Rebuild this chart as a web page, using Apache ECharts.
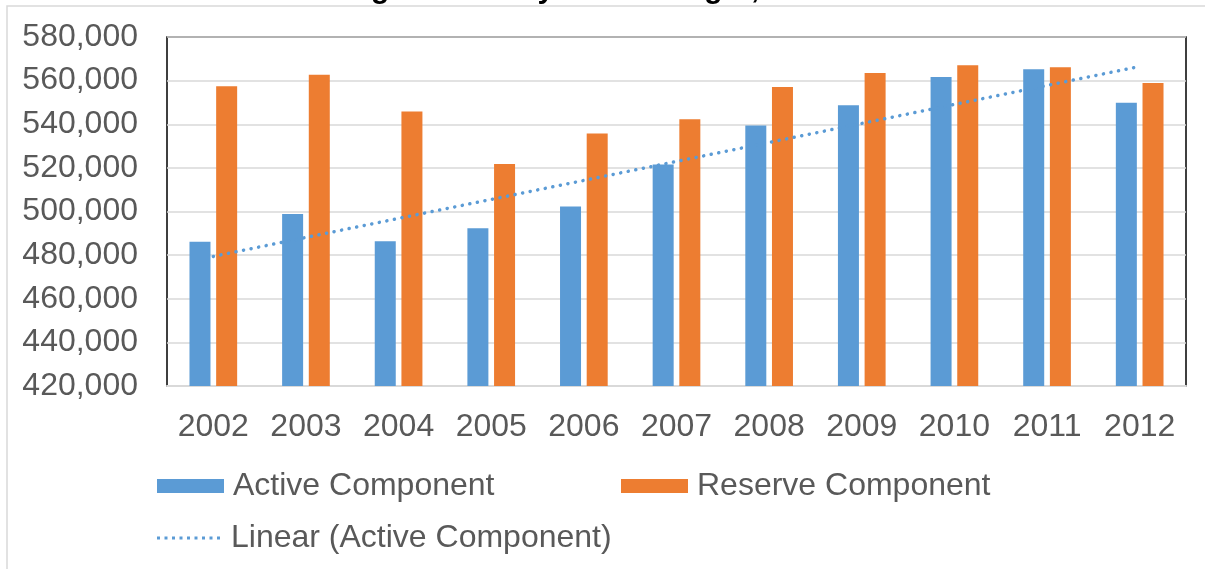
<!DOCTYPE html>
<html>
<head>
<meta charset="utf-8">
<script src="https://cdn.jsdelivr.net/npm/echarts@6/dist/echarts.min.js"></script>
<style>
  html, body { margin: 0; padding: 0; background: #fff; }
  #endStrength { width: 1205px; height: 569px; }
</style>
</head>
<body>
<div id="endStrength"></div>
<script>
  var years = ['2002', '2003', '2004', '2005', '2006', '2007', '2008', '2009', '2010', '2011', '2012']
  var activeComponent = [486100, 498900, 486400, 492300, 502300, 521600, 539400, 548700, 561700, 565200, 549800]
  var reserveComponent = [557400, 562700, 545800, 521800, 535800, 542300, 557100, 563500, 567000, 566100, 558900]
  // trendline: only its two ends
  var activeTrend = [479400, null, null, null, null, null, null, null, null, null, 566500]

  var txt = '#595959'
  // dotted legend swatch for the trendline
  var dotIcon = 'path://'
  for (var i = 0; i < 9; i++) {
    dotIcon += 'M' + (i * 8) + ',0h3.2v3.2h-3.2z'
  }

  var endStrength = echarts.init(document.getElementById('endStrength'))
  var endStrength_Option = {
    animation: false,
    textStyle: { fontFamily: 'Liberation Sans, Arial, sans-serif' },
    graphic: [{
      type: 'rect',
      shape: { x: 7, y: 6, width: 1300, height: 700 },
      style: { fill: 'none', stroke: '#d9d9d9', lineWidth: 1.5 },
      silent: true
    }, {
      type: 'text',
      x: 666, y: 5,
      style: {
        text: 'Figure 4. Army End Strength, FY2002-FY2012',
        fill: '#000',
        font: 'bold 30px "Liberation Sans", Arial, sans-serif',
        align: 'center',
        verticalAlign: 'bottom'
      },
      silent: true
    }],
    grid: {
      left: 167,
      top: 37,
      right: 19,
      bottom: 183,
      show: true,
      borderColor: '#000',
      borderWidth: 1.5,
      backgroundColor: 'transparent'
    },
    legend: [{
      data: [{ name: 'Active Component', icon: 'rect' }],
      left: 157, top: 470, padding: 0,
      itemWidth: 67, itemHeight: 14,
      textStyle: { color: txt, fontSize: 32, padding: [0, 0, 0, 4] }
    }, {
      data: [{ name: 'Reserve Component', icon: 'rect' }],
      left: 621, top: 470, padding: 0,
      itemWidth: 67, itemHeight: 14,
      textStyle: { color: txt, fontSize: 32, padding: [0, 0, 0, 4] }
    }, {
      data: [{ name: 'Linear (Active Component)', icon: dotIcon }],
      left: 157, top: 522, padding: 0,
      itemWidth: 67, itemHeight: 3,
      itemStyle: { color: '#5B9BD5' },
      textStyle: { color: txt, fontSize: 32, padding: [0, 0, 0, 4] }
    }],
    xAxis: {
      type: 'category',
      data: years,
      axisLine: { lineStyle: { color: '#d9d9d9', width: 2 } },
      axisTick: { show: false },
      axisLabel: { color: txt, fontSize: 32, margin: 25 }
    },
    yAxis: {
      type: 'value',
      min: 420000,
      max: 580000,
      interval: 20000,
      axisLine: { show: false },
      axisTick: { show: false },
      splitLine: { lineStyle: { color: '#d9d9d9', width: 1.5 } },
      axisLabel: {
        color: txt,
        fontSize: 32,
        margin: 29,
        formatter: function (v) { return v.toLocaleString('en-US') }
      }
    },
    series: [{
      name: 'Active Component',
      type: 'bar',
      barWidth: 21,
      barGap: '27%',
      itemStyle: { color: '#5B9BD5' },
      data: activeComponent
    }, {
      name: 'Reserve Component',
      type: 'bar',
      barWidth: 21,
      barGap: '27%',
      itemStyle: { color: '#ED7D31' },
      data: reserveComponent
    }, {
      name: 'Linear (Active Component)',
      type: 'line',
      symbol: 'none',
      connectNulls: true,
      z: 5,
      itemStyle: { color: '#5B9BD5' },
      lineStyle: { color: '#5B9BD5', width: 3.5, type: [0.1, 7.6], cap: 'round' },
      data: activeTrend
    }]
  }
  endStrength.setOption(endStrength_Option)
</script>
</body>
</html>
